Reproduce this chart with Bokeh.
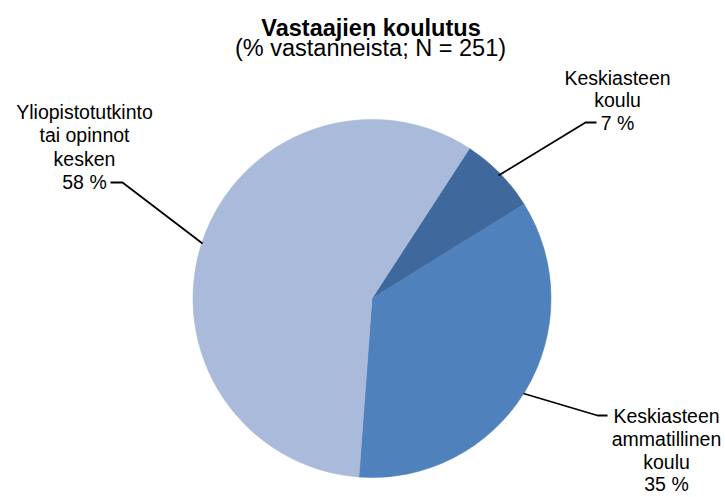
import numpy as np
from bokeh.plotting import figure
from bokeh.models import Range1d, ColumnDataSource
from bokeh.core.properties import value
from bokeh.embed import file_html
from bokeh.resources import INLINE

# ---- data ----
categories = ["Keskiasteen koulu",
              "Keskiasteen ammatillinen koulu",
              "Yliopistotutkinto tai opinnot kesken"]
label_lines = [["Keskiasteen", "koulu"],
               ["Keskiasteen", "ammatillinen", "koulu"],
               ["Yliopistotutkinto", "tai opinnot", "kesken"]]
shares = [7, 35, 58]
colors = ["#3F699D", "#4F81BD", "#AABADA"]
title_text = "Vastaajien koulutus"
subtitle_text = "(% vastanneista; N = 251)"

# ---- layout (picture pixel coordinates, y downward -> negated) ----
W, H = 725, 497
FONT = value("Liberation Sans")
p = figure(width=W, height=H, x_range=Range1d(0, W), y_range=Range1d(-H, 0),
           output_backend="svg", toolbar_location=None, min_border=0)
p.axis.visible = False
p.xgrid.visible = False
p.ygrid.visible = False
p.outline_line_color = None
p.background_fill_color = "white"
p.border_fill_color = "white"

cx, cy, r = 371.5, -298.0, 179.0
rot = np.deg2rad(33.0)
fr = np.array(shares, dtype=float) / sum(shares)
cum = np.concatenate([[0.0], np.cumsum(fr)])
start = np.pi / 2 - rot - cum[:-1] * 2 * np.pi
end = np.pi / 2 - rot - cum[1:] * 2 * np.pi
src = ColumnDataSource(dict(start=start, end=end, color=colors, cat=categories))
p.wedge(x=cx, y=cy, radius=r, start_angle="start", end_angle="end", direction="clock",
        fill_color="color", line_color="color", line_width=0.6, source=src)

# leader lines (pie edge -> elbow -> label)
leaders = [
    ([498, 585, 596], [175, 122, 122]),
    ([523, 597, 607], [393, 415, 415]),
    ([202, 122, 110], [243, 182, 182]),
]
for xs, ys in leaders:
    p.line(xs, [-y for y in ys], line_color="black", line_width=1.8)

# data labels
label_cx = [617, 666, 84]
label_y0 = [77, 415.5, 111.5]
label_dy = [22.5, 22.8, 23.3]
tx, ty, tt = [], [], []
for i in range(len(categories)):
    lines = label_lines[i] + [f"{shares[i]} %"]
    for j, s in enumerate(lines):
        tx.append(label_cx[i])
        ty.append(-(label_y0[i] + j * label_dy[i]))
        tt.append(s)
p.text(x=tx, y=ty, text=tt, text_font=FONT, text_font_size="19.5px",
       text_align="center", text_baseline="alphabetic", text_color="black")

# title
p.text(x=[370.5], y=[-27.3], text=[title_text], text_font=FONT, text_font_size="23.5px",
       text_font_style="bold", text_align="center", text_baseline="alphabetic", text_color="black")
p.text(x=[370], y=[-47.5], text=[subtitle_text], text_font=FONT, text_font_size="23.5px",
       text_align="center", text_baseline="alphabetic", text_color="black")

open("out.html", "w").write(file_html(p, INLINE))
